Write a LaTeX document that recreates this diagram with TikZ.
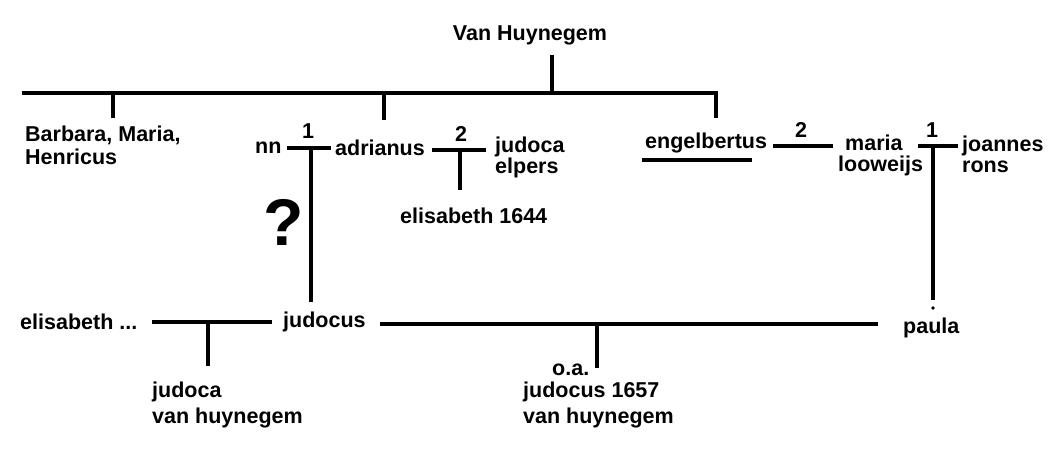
\documentclass[tikz,border=0pt]{standalone}
\usepackage{fontspec}
\setmainfont{Liberation Sans}
\begin{document}
\begin{tikzpicture}[x=1pt,y=-1pt,
  ln/.style={line width=3.5pt},
  t/.style={font=\bfseries\fontsize{21.5}{24}\selectfont,inner sep=0pt,anchor=west},
  tc/.style={font=\bfseries\fontsize{21.5}{24}\selectfont,inner sep=0pt}]
\useasboundingbox[fill=white] (0,0) rectangle (1061,453);
\node[tc] (vh) at (530,35) {Van Huynegem};
\coordinate (top) at (552,55);
\coordinate (m) at (552,93);
\draw[ln] (top) -- (m);
\coordinate (hl) at (22,93); \coordinate (hr) at (718,93);
\draw[ln] (hl) -- (hr);
\draw[ln] (113,93) -- (113,118);
\draw[ln] (384,93) -- (384,120);
\draw[ln] (716,93) -- (716,118);
\node[t] (bmh) at (25,135) {Barbara, Maria,};
\node[t] (hen) at (25,157) {Henricus};
\node[t] (nn) at (255,148) {nn};
\node[tc] (o1) at (308,131) {1};
\draw[ln] (287,148) -- (331,148);
\coordinate (j1) at (311,148);
\node[t] (adr) at (335,148) {adrianus};
\node[tc] (o2) at (461,134) {2};
\draw[ln] (432,150) -- (486,150);
\draw[ln] (460,150) -- (460,190);
\node[t] (jud) at (495,147) {judoca};
\node[t] (elp) at (495,168) {elpers};
\node[t] (eli) at (400,216) {elisabeth 1644};
\node[tc,font=\bfseries\fontsize{66}{70}\selectfont] (q) at (284,222) {?};
\node[t] (eng) at (645,143) {engelbertus};
\draw[ln] (642,160) -- (752,160);
\node[tc] (o3) at (801,130) {2};
\draw[ln] (773,146) -- (833,146);
\node[t] (mar) at (845,143) {maria};
\node[t] (loo) at (838,166) {looweijs};
\node[tc] (o4) at (932,130) {1};
\draw[ln] (918,146) -- (958,146);
\draw[ln] (933,146) -- (933,300);
\fill (933,308) circle (1.8);
\node[t] (joa) at (962,146) {joannes};
\node[t] (ron) at (962,167) {rons};
\node[t] (jdc) at (283,322) {judocus};
\draw[ln] (j1) -- (311,302);
\node[t] (elis) at (20,322) {elisabeth ...};
\draw[ln] (152,322) -- (272,322);
\draw[ln] (208,322) -- (208,366);
\node[t] (jd2) at (152,392) {judoca};
\node[t] (vh2) at (152,418) {van huynegem};
\draw[ln] (380,324) -- (878,324);
\draw[ln] (597,324) -- (597,368);
\node[t] (oa) at (552,370) {o.a.};
\node[t] (j57) at (523,392) {judocus 1657};
\node[t] (vh3) at (523,418) {van huynegem};
\node[t] (pau) at (903,328) {paula};
\end{tikzpicture}
\end{document}
